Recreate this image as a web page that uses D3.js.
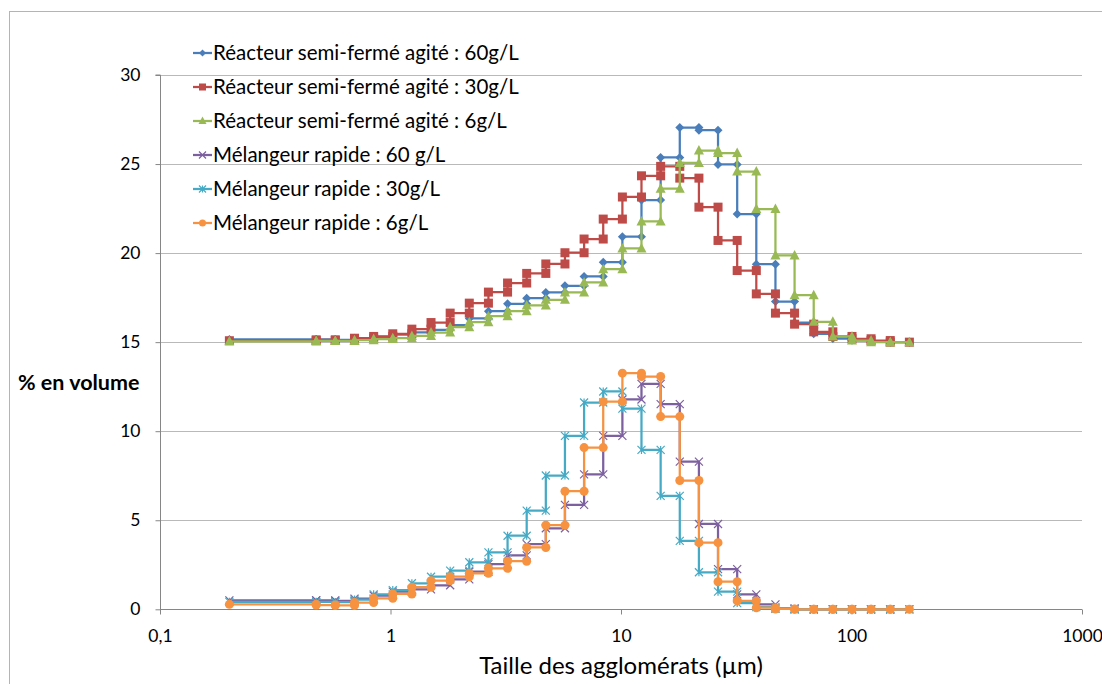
<!DOCTYPE html>
<html>
<head>
<meta charset="utf-8">
<script src="https://cdn.jsdelivr.net/npm/d3@7"></script>
<style>
  html, body { margin: 0; padding: 0; background: #fff; }
  svg { display: block; }
  text { font-family: Lato, "Open Sans", sans-serif; fill: #000; }
</style>
</head>
<body>
<svg id="chart" width="1102" height="684"></svg>
<script>
// Bin edges (µm)
const binEdges = [0.2, 0.476, 0.576, 0.698, 0.845, 1.023, 1.238, 1.499, 1.815, 2.197, 2.660,
  3.220, 3.898, 4.719, 5.713, 6.916, 8.373, 10.14, 12.27, 14.86, 17.99, 21.78, 26.36,
  31.92, 38.64, 46.78, 56.63, 68.56, 83.0, 100.5, 121.6, 147.3, 178.3];

// % en volume per bin (as plotted)
const reacteur60 = [15.15, 15.15, 15.13, 15.22, 15.30, 15.42, 15.55, 15.69, 15.96, 16.33, 16.74, 17.15,
  17.47, 17.79, 18.16, 18.69, 19.49, 20.92, 22.98, 25.37, 27.05, 26.90, 24.98, 22.19, 19.38, 17.28,
  16.10, 15.47, 15.20, 15.10, 15.05, 15.00];
const reacteur30 = [15.08, 15.13, 15.10, 15.22, 15.32, 15.47, 15.73, 16.10, 16.63, 17.19, 17.81, 18.32,
  18.86, 19.39, 20.02, 20.79, 21.91, 23.15, 24.34, 24.87, 24.21, 22.58, 20.71, 19.02, 17.71, 16.63,
  16.01, 15.58, 15.32, 15.19, 15.09, 15.00];
const reacteur6 = [15.05, 15.07, 15.07, 15.11, 15.17, 15.22, 15.35, 15.54, 15.84, 16.12, 16.46, 16.74,
  17.06, 17.38, 17.79, 18.35, 19.10, 20.26, 21.78, 23.62, 25.06, 25.76, 25.62, 24.58, 22.47, 19.87,
  17.64, 16.14, 15.32, 15.09, 15.00, 15.00];
const melangeur60 = [0.50, 0.50, 0.47, 0.60, 0.77, 0.99, 1.12, 1.35, 1.68, 2.11, 2.54, 3.03,
  3.66, 4.55, 5.86, 7.58, 9.74, 11.78, 12.66, 11.52, 8.29, 4.79, 2.26, 0.84, 0.28, 0.05,
  0, 0, 0, 0, 0, 0];
const melangeur30 = [0.42, 0.41, 0.40, 0.55, 0.84, 1.08, 1.46, 1.83, 2.17, 2.64, 3.20, 4.13,
  5.54, 7.51, 9.74, 11.61, 12.23, 11.27, 8.95, 6.37, 3.84, 2.08, 0.99, 0.35, 0.12, 0.02,
  0, 0, 0, 0, 0, 0];
const melangeur6 = [0.28, 0.24, 0.22, 0.38, 0.62, 0.86, 1.24, 1.61, 1.83, 2.02, 2.30, 2.70,
  3.47, 4.72, 6.63, 9.08, 11.66, 13.26, 13.07, 10.82, 7.23, 3.74, 1.55, 0.47, 0.09, 0.02,
  0, 0, 0, 0, 0, 0];

const seriesNames = [
  "Réacteur semi-fermé agité : 60g/L",
  "Réacteur semi-fermé agité : 30g/L",
  "Réacteur semi-fermé agité : 6g/L",
  "Mélangeur rapide : 60 g/L",
  "Mélangeur rapide : 30g/L",
  "Mélangeur rapide : 6g/L"
];
const seriesValues = [reacteur60, reacteur30, reacteur6, melangeur60, melangeur30, melangeur6];
const seriesColors = ["#4A7EBB", "#BE4B48", "#98B954", "#7D60A0", "#46AAC5", "#F69240"];
const seriesMarkers = ["diamond", "square", "triangle", "cross", "asterisk", "circle"];

const xTicks = [0.1, 1, 10, 100, 1000];
const xTickLabels = ["0,1", "1", "10", "100", "1000"];
const yTicks = [0, 5, 10, 15, 20, 25, 30];

const xTitle = "Taille des agglomérats (µm)";
const yTitle = "% en volume";

const svg = d3.select("#chart");

// chart area border
svg.append("rect").attr("x", 9.5).attr("y", 11.5).attr("width", 1200).attr("height", 800)
  .attr("fill", "none").attr("stroke", "#b4b4b4").attr("stroke-width", 1);

const x = d3.scaleLog().domain([0.1, 1000]).range([160, 1082]);
const y = d3.scaleLinear().domain([0, 30]).range([609.3, 75]);

// gridlines
svg.append("g").selectAll("line").data(yTicks.filter(d => d > 0)).join("line")
  .attr("x1", x(0.1)).attr("x2", x(1000))
  .attr("y1", d => Math.round(y(d)) + 0.5).attr("y2", d => Math.round(y(d)) + 0.5)
  .attr("stroke", "#b9b9b9").attr("stroke-width", 1);

// axes
const yAxis = d3.axisLeft(y).tickValues(yTicks).tickSize(5).tickPadding(15).tickFormat(d3.format("d"));
const gy = svg.append("g").attr("transform", `translate(${Math.round(x(0.1)) + 0.5},0)`).call(yAxis);
gy.selectAll("text").style("font-size", "17.5px");
gy.selectAll("line, path").attr("stroke", "#868686");
gy.select(".domain").attr("d", `M-5,${y(30)}H0V${y(0)}`);

const xAxis = d3.axisBottom(x).tickValues(xTicks).tickSize(5).tickPadding(15)
  .tickFormat((d, i) => xTickLabels[i]);
const gx = svg.append("g").attr("transform", `translate(0,${Math.round(y(0)) + 0.5})`).call(xAxis);
gx.selectAll("text").style("font-size", "17.5px");
gx.selectAll("line, path").attr("stroke", "#868686");
gx.select(".domain").attr("d", `M${x(0.1)},0H${x(1000)}`);

// axis titles
svg.append("text").attr("x", x(10)).attr("y", 674).attr("text-anchor", "middle")
  .style("font-size", "24px").text(xTitle);
svg.append("text").attr("x", 18).attr("y", 390).style("font-size", "21.5px")
  .style("font-weight", "bold").text(yTitle);

// marker drawing
function drawMarker(g, type, color, cx, cy, s) {
  if (type === "diamond") {
    g.append("path").attr("d", `M${cx},${cy - s}L${cx + s},${cy}L${cx},${cy + s}L${cx - s},${cy}Z`).attr("fill", color);
  } else if (type === "square") {
    g.append("rect").attr("x", cx - s).attr("y", cy - s).attr("width", 2 * s).attr("height", 2 * s).attr("fill", color);
  } else if (type === "triangle") {
    g.append("path").attr("d", `M${cx},${cy - s - 1}L${cx + s + 0.5},${cy + s - 0.5}L${cx - s - 0.5},${cy + s - 0.5}Z`).attr("fill", color);
  } else if (type === "cross") {
    g.append("path").attr("d", `M${cx - s},${cy - s}L${cx + s},${cy + s}M${cx - s},${cy + s}L${cx + s},${cy - s}`)
      .attr("stroke", color).attr("stroke-width", 1.2).attr("fill", "none");
  } else if (type === "asterisk") {
    g.append("path").attr("d", `M${cx - s},${cy - s}L${cx + s},${cy + s}M${cx - s},${cy + s}L${cx + s},${cy - s}M${cx},${cy - s}L${cx},${cy + s}`)
      .attr("stroke", color).attr("stroke-width", 1.2).attr("fill", "none");
  } else if (type === "circle") {
    g.append("circle").attr("cx", cx).attr("cy", cy).attr("r", s).attr("fill", color);
  }
}
const markerSize = { diamond: 4.5, square: 4.5, triangle: 4.5, cross: 4, asterisk: 4, circle: 4.5 };

const line = d3.line().x(d => x(d[0])).y(d => y(d[1]));

seriesValues.forEach((vals, si) => {
  const pts = [];
  vals.forEach((v, i) => {
    pts.push([binEdges[i], v]);
    pts.push([binEdges[i + 1], v]);
  });
  const g = svg.append("g");
  g.append("path").datum(pts).attr("d", line).attr("fill", "none")
    .attr("stroke", seriesColors[si]).attr("stroke-width", 2.25).attr("stroke-linejoin", "round");
  pts.forEach(p => drawMarker(g, seriesMarkers[si], seriesColors[si], x(p[0]), y(p[1]), markerSize[seriesMarkers[si]]));
});

// legend
const legend = svg.append("g");
seriesNames.forEach((name, i) => {
  const ly = 53 + i * 34;
  const g = legend.append("g");
  g.append("line").attr("x1", 193).attr("x2", 212).attr("y1", ly).attr("y2", ly)
    .attr("stroke", seriesColors[i]).attr("stroke-width", 2.25);
  drawMarker(g, seriesMarkers[i], seriesColors[i], 202.5, ly, 3.5);
  g.append("text").attr("x", 213).attr("y", ly + 7).style("font-size", "20.5px").text(name);
});
</script>
</body>
</html>
